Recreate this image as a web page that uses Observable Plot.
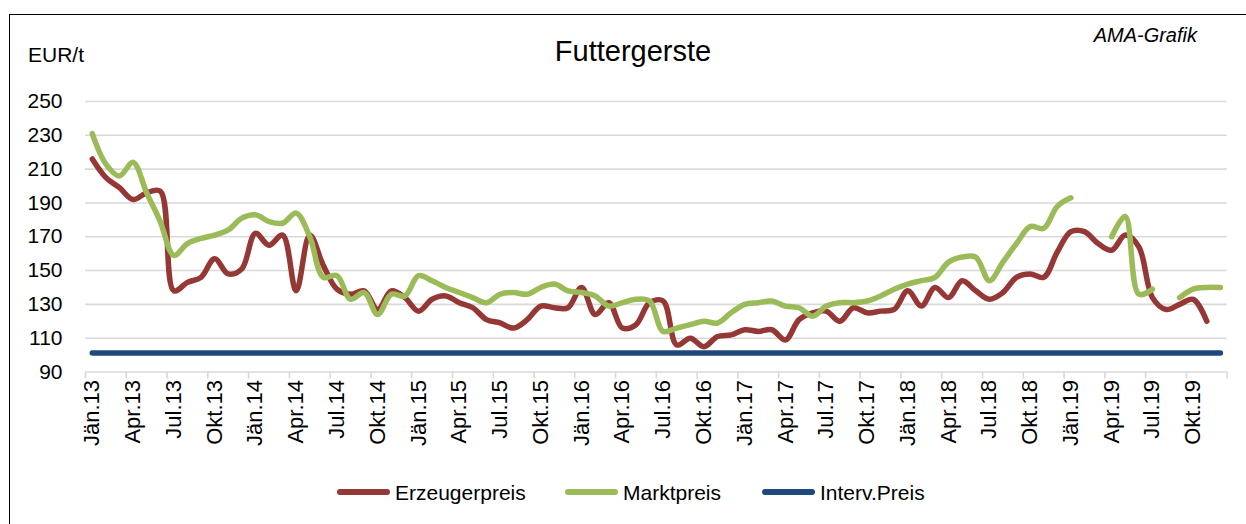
<!DOCTYPE html>
<html><head><meta charset="utf-8">
<script src="https://cdn.jsdelivr.net/npm/d3@7"></script>
<script src="https://cdn.jsdelivr.net/npm/@observablehq/plot@0.6"></script>
<style>
html,body{margin:0;padding:0;background:#fff;}
body{width:1246px;height:524px;overflow:hidden;position:relative;font-family:"Liberation Sans",Arial,sans-serif;color:#000;}
#frame{position:absolute;left:9px;top:14px;width:1320px;height:620px;border:1.5px solid #000;box-sizing:border-box;}
#chart{position:absolute;left:0;top:0;}
.t{position:absolute;white-space:nowrap;}
#title{left:0;width:1266px;text-align:center;top:37px;font-size:29px;line-height:29px;}
#unit{left:28px;top:44px;font-size:21px;line-height:21px;}
#credit{right:49px;top:25px;font-size:20px;line-height:20px;font-style:italic;}
.lg{position:absolute;top:481px;display:flex;align-items:center;font-size:21px;line-height:21px;height:22px;}
.sw{width:53px;height:6px;border-radius:3px;margin-right:5px;}
</style></head>
<body>
<div id="frame"></div>
<div id="chart"></div>
<div class="t" id="title">Futtergerste</div>
<div class="t" id="unit">EUR/t</div>
<div class="t" id="credit">AMA-Grafik</div>
<div id="legend"></div>
<script>
// ---- data ----
const monthNames = ["Jän","Feb","Mär","Apr","Mai","Jun","Jul","Aug","Sep","Okt","Nov","Dez"];
const years = ["13","14","15","16","17","18","19"];
const months = years.flatMap(y => monthNames.map(m => m + "." + y)); // Jän.13 ... Dez.19

const seriesNames = ["Erzeugerpreis", "Marktpreis", "Interv.Preis"];
const seriesColors = ["#953735", "#9BBB59", "#1F497D"];

// Erzeugerpreis (EUR/t), Jän.13 – Nov.19
const erzeugerpreis = [
  216,205,199,192,196,197,138,143,146,157,148,151,
  172,165,171,138,171,153,139,136,138,127,138,134,
  126,133,135,131,128,121,119,116,121,129,128,128,
  140,124,131,116,118,131,132,106,110,105,111,112,
  115,114,115,109,121,125,126,120,128,125,126,127,
  138,129,140,134,144,138,133,137,146,148,146,161,
  173,173,166,162,171,164,134,127,130,133,120
];
// Marktpreis (EUR/t), Jän.13 – Dez.19 (null = no quotation)
const marktpreis = [
  231,213,206,214,196,179,159,166,169,171,174,181,
  183,179,178,184,170,146,147,133,137,124,136,135,
  147,144,140,137,134,131,136,137,136,140,142,138,
  137,135,129,131,133,132,114,116,118,120,119,125,
  130,131,132,129,128,123,129,131,131,132,135,139,
  142,144,146,155,158,158,144,155,166,176,175,188,
  193,null,null,170,182,136,139,null,134,139,140,140
];
// Interventionspreis (EUR/t), constant
const intervPreis = months.map(() => 101.31);

const yTicks = [90,110,130,150,170,190,210,230,250];
const labelTicks = d3.range(0, 84, 3);          // Jän, Apr, Jul, Okt
const boundaryTicks = d3.range(-0.5, 84, 3);    // category boundaries

const rows = (vals) => vals.map((v, i) => ({i, v}));

const font = "'Liberation Sans', Arial, sans-serif";
const chart = Plot.plot({
  width: 1246,
  height: 524,
  marginLeft: 85,
  marginRight: 19.3,
  marginTop: 101,
  marginBottom: 152.5,
  x: {type: "linear", domain: [-0.5, 83.5]},
  y: {domain: [90, 250]},
  style: {fontFamily: font, fontSize: "21px", color: "#000", background: "transparent", overflow: "visible"},
  marks: [
    Plot.ruleY(yTicks, {stroke: "#d9d9d9", strokeWidth: 1.6}),
    Plot.axisY(yTicks, {tickSize: 0, tickPadding: 23, label: null, fontSize: 21}),
    Plot.axisX(boundaryTicks, {tickSize: 7, stroke: "#d9d9d9", strokeWidth: 1.6, strokeOpacity: 1, tickFormat: () => "", label: null}),
    Plot.axisX(labelTicks, {tickSize: 0, tickPadding: 8, tickRotate: -90, tickFormat: i => months[i], label: null, fontSize: 22}),
    Plot.line(rows(erzeugerpreis), {x: "i", y: "v", stroke: seriesColors[0], strokeWidth: 5.5, curve: "catmull-rom", strokeLinecap: "round", strokeLinejoin: "round"}),
    Plot.line(rows(marktpreis), {x: "i", y: "v", stroke: seriesColors[1], strokeWidth: 5.5, curve: "catmull-rom", strokeLinecap: "round", strokeLinejoin: "round"}),
    Plot.line(rows(intervPreis), {x: "i", y: "v", stroke: seriesColors[2], strokeWidth: 5.5, strokeLinecap: "round"})
  ]
});
document.getElementById("chart").appendChild(chart);

// legend
const legendLeft = [337, 565, 762];
const lg = document.getElementById("legend");
seriesNames.forEach((name, k) => {
  const d = document.createElement("div");
  d.className = "lg";
  d.style.left = legendLeft[k] + "px";
  d.innerHTML = `<div class="sw" style="background:${seriesColors[k]}"></div><span>${name}</span>`;
  lg.appendChild(d);
});
</script>
</body></html>
